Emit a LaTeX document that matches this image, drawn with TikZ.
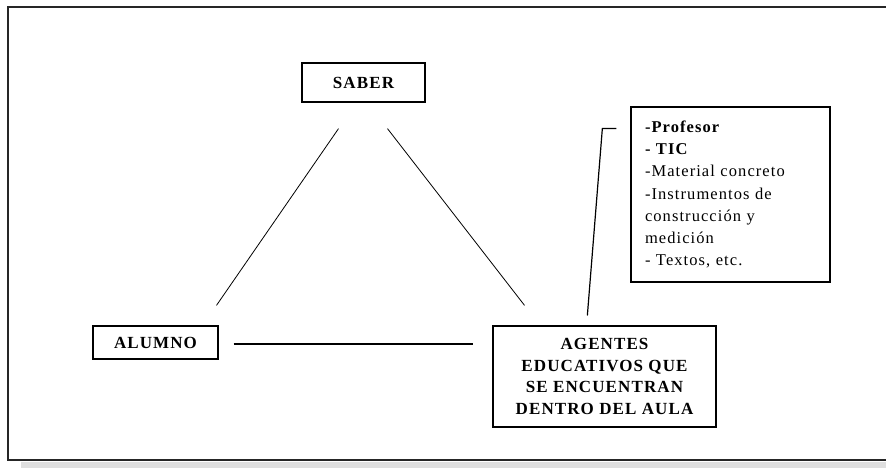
\documentclass[tikz,border=0pt]{standalone}
\usepackage{fontspec}
\setmainfont{Liberation Serif}
\newfontfamily\spacedfont[LetterSpace=6.5]{Liberation Serif}
\usepackage{tikz}
\usetikzlibrary{positioning}
\tikzset{
  box/.style={draw, rectangle, line width=1.3pt, align=center, inner sep=0pt, font=\spacedfont\bfseries\fontsize{17}{21.5}\selectfont},
  listbox/.style={draw, rectangle, line width=1.3pt, align=left, inner sep=0pt, text width=179pt, font=\spacedfont\fontsize{16.5}{22.3}\selectfont},
  tri/.style={line width=0.8pt},
  callout/.style={line width=1.2pt}
}
\begin{document}
\begin{tikzpicture}[x=1pt,y=-1pt]
\useasboundingbox (0,0) rectangle (886,468);
% page frame and shadow
\fill[gray!25] (21,462) rectangle (886,468);
\draw[line width=2pt, black!85] (886,7) -- (8,7) -- (8,460) -- (886,460);

\node[box,minimum width=123pt,minimum height=39pt] (saber) at (363.5,82.5) {SABER};
\node[box,minimum width=125pt,minimum height=33pt] (alumno) at (155.5,342.5) {ALUMNO};
\node[box,minimum width=223pt,minimum height=101pt] (agentes) at (604.5,376.5) {AGENTES\\EDUCATIVOS QUE\\SE ENCUENTRAN\\DENTRO DEL AULA};
\node[listbox,minimum width=199pt,minimum height=175pt] (listbox) at (730.5,194.5) {\hspace*{4pt}\parbox[t]{174pt}{\textbf{-Profesor}\\\textbf{- TIC}\\-Material concreto\\-Instrumentos de\\construcción y\\medición\\- Textos, etc.}};

\draw[tri] ([shift={(-25,26)}]saber.south) -- ([shift={(61,-20)}]alumno.north);
\draw[tri] ([shift={(24,26)}]saber.south) -- ([shift={(-80,-20)}]agentes.north);
\draw[tri,line width=1.2pt] ([xshift=15pt,yshift=-1.5pt]alumno.east) -- +(239,0);
\draw[callout] ([shift={(-14,-66)}]listbox.west) -- ++(-14,0) -- ++(-15,187);
\end{tikzpicture}
\end{document}
